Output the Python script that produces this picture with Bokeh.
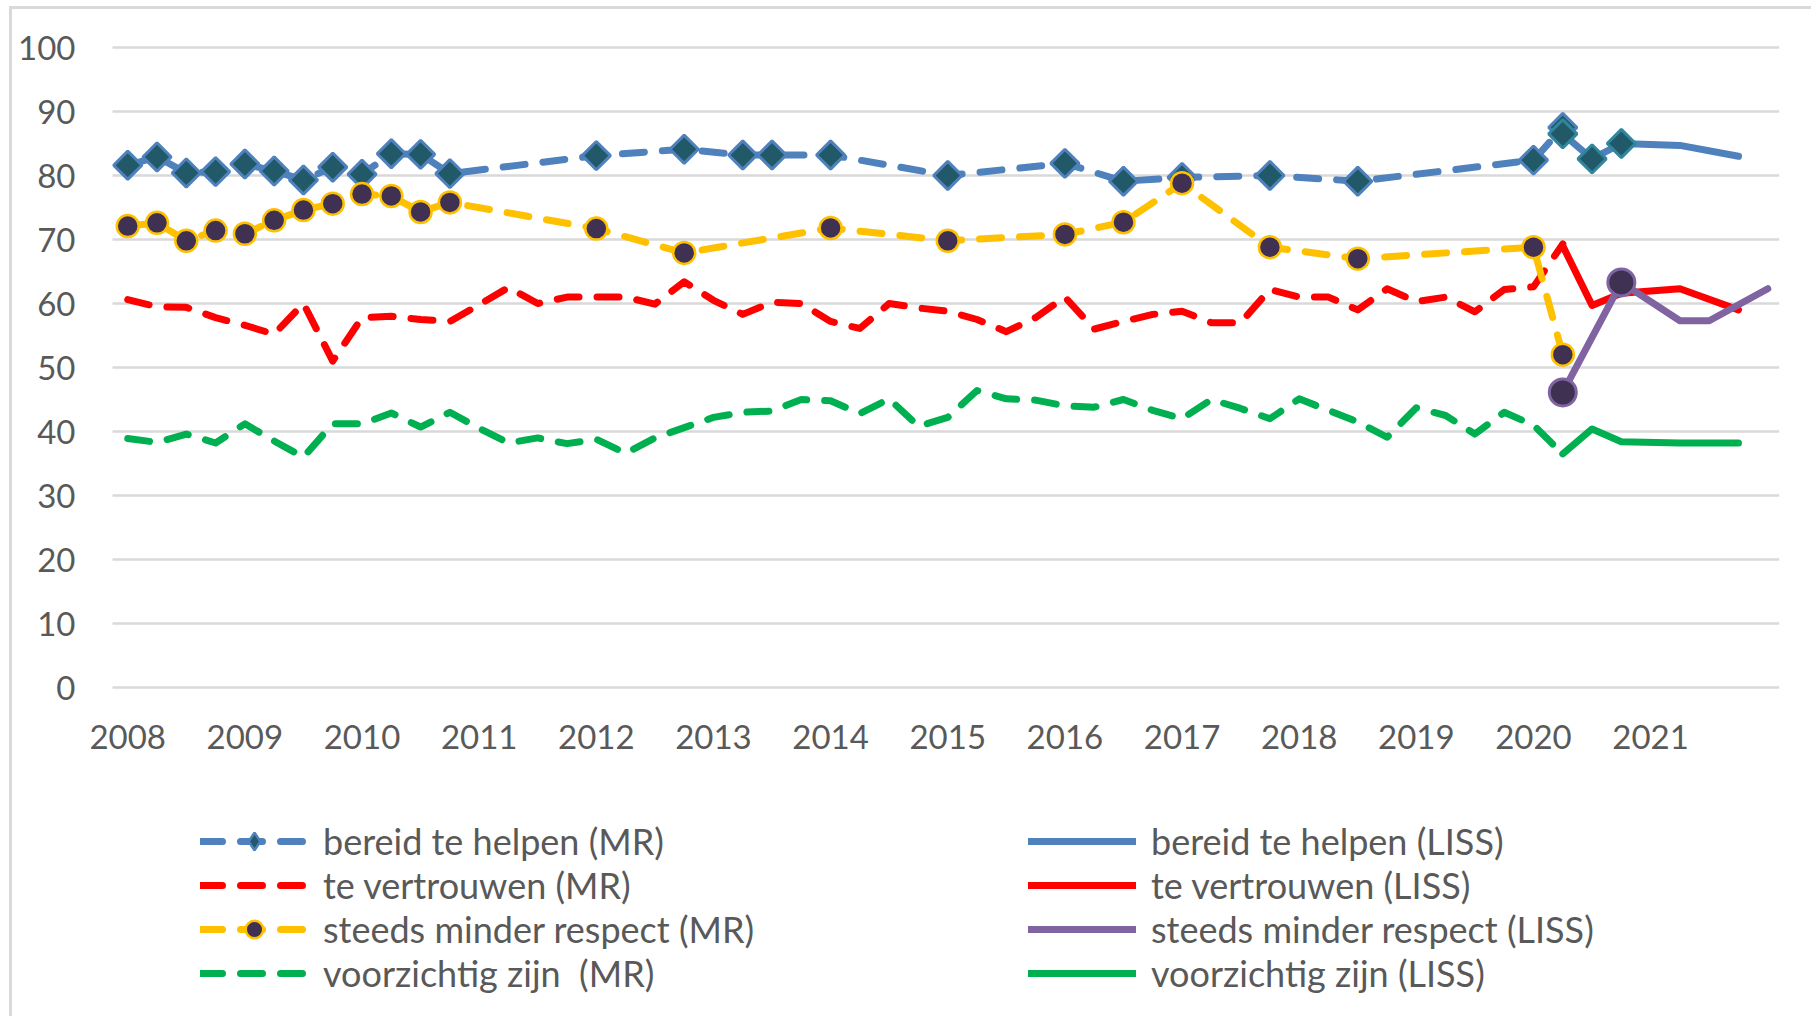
import math
from bokeh.plotting import figure
from bokeh.models import Legend, LegendItem, FixedTicker, Range1d
from bokeh.embed import file_html
from bokeh.resources import INLINE

# ---------------- data ----------------
year_ticks = [2008, 2009, 2010, 2011, 2012, 2013, 2014, 2015, 2016, 2017, 2018, 2019, 2020, 2021]
year_labels = ["2008", "2009", "2010", "2011", "2012", "2013", "2014", "2015", "2016", "2017",
               "2018", "2019", "2020", "2021"]
y_ticks = [0, 10, 20, 30, 40, 50, 60, 70, 80, 90, 100]

# quarterly measurements (MR) for "te vertrouwen" and "voorzichtig zijn"
mr_quarters = [2008.0, 2008.25, 2008.5, 2008.75, 2009.0, 2009.25, 2009.5, 2009.75,
               2010.0, 2010.25, 2010.5, 2010.75, 2011.0, 2011.25, 2011.5, 2011.75,
               2012.0, 2012.25, 2012.5, 2012.75, 2013.0, 2013.25, 2013.5, 2013.75,
               2014.0, 2014.25, 2014.5, 2014.75, 2015.0, 2015.25, 2015.5, 2015.75,
               2016.0, 2016.25, 2016.5, 2016.75, 2017.0, 2017.25, 2017.5, 2017.75,
               2018.0, 2018.25, 2018.5, 2018.75, 2019.0, 2019.25, 2019.5, 2019.75,
               2020.0, 2020.25]
vertrouwen_mr = [60.6, 59.5, 59.4, 57.8, 56.6, 55.2, 60.0, 51.0,
                 57.8, 58.0, 57.5, 57.2, 59.8, 62.5, 60.0, 61.0,
                 61.0, 61.0, 59.9, 63.4, 60.5, 58.3, 60.2, 60.0,
                 57.2, 56.1, 60.0, 59.3, 58.8, 57.5, 55.6, 57.8,
                 61.0, 56.0, 57.2, 58.3, 58.8, 57.0, 57.0, 62.2,
                 61.0, 61.0, 59.0, 62.3, 60.3, 61.0, 58.7, 62.2,
                 62.6, 69.3]
voorzichtig_mr = [38.9, 38.3, 39.6, 38.2, 41.2, 38.5, 36.0, 41.2,
                  41.2, 42.9, 40.7, 43.0, 40.5, 38.2, 39.0, 38.1,
                  38.8, 36.6, 39.0, 40.6, 42.2, 43.0, 43.2, 45.0,
                  44.8, 42.8, 45.1, 40.8, 42.2, 46.4, 45.1, 44.9,
                  44.0, 43.8, 45.0, 43.3, 42.0, 45.0, 43.6, 42.0,
                  45.1, 43.3, 41.5, 39.1, 43.7, 42.5, 39.6, 43.0,
                  41.0, 36.5]

# "bereid te helpen" (MR)
helpen_mr_x = [2008.0, 2008.25, 2008.5, 2008.75, 2009.0, 2009.25, 2009.5, 2009.75,
               2010.0, 2010.25, 2010.5, 2010.75, 2012.0, 2012.75, 2013.25, 2013.5,
               2014.0, 2015.0, 2016.0, 2016.5, 2017.0, 2017.75, 2018.5, 2020.0, 2020.25]
helpen_mr = [81.6, 82.9, 80.4, 80.6, 81.8, 80.7, 79.3, 81.3,
             80.2, 83.4, 83.3, 80.3, 83.1, 84.1, 83.2, 83.2,
             83.2, 80.0, 81.9, 79.1, 79.7, 80.0, 79.1, 82.4, 87.5]

# "steeds minder respect" (MR)
respect_mr_x = [2008.0, 2008.25, 2008.5, 2008.75, 2009.0, 2009.25, 2009.5, 2009.75,
                2010.0, 2010.25, 2010.5, 2010.75, 2012.0, 2012.75, 2014.0, 2015.0,
                2016.0, 2016.5, 2017.0, 2017.75, 2018.5, 2020.0, 2020.25]
respect_mr = [72.1, 72.6, 69.8, 71.4, 70.9, 73.0, 74.6, 75.6,
              77.1, 76.8, 74.3, 75.8, 71.7, 67.9, 71.8, 69.8,
              70.8, 72.7, 78.8, 68.8, 67.0, 68.8, 52.0]

# LISS panel
liss_x = [2020.25, 2020.5, 2020.75, 2021.25, 2021.75]
helpen_liss = [86.5, 82.6, 85.0, 84.7, 83.0]
vertrouwen_liss = [69.0, 59.7, 61.6, 62.3, 59.0]
voorzichtig_liss = [36.5, 40.4, 38.4, 38.2, 38.2]
respect_liss_x = [2020.25, 2020.75, 2021.25, 2021.5, 2022.0]
respect_liss = [46.1, 63.3, 57.3, 57.3, 62.3]

# ---------------- styling ----------------
BLUE = "#4F81BD"
RED = "#FF0000"
YELLOW = "#FFC000"
GREEN = "#00B050"
PURPLE = "#8064A2"
TEXT = "#595959"
GRID = "#D9D9D9"
FONT = "Lato"
LW = 7
DASH = "22 18"

W, H = 1811, 1016
FRAME_L, FRAME_R, FRAME_T = 13, 1779, 10   # drawing frame in pixels
AX_L = 112                                  # pixel where the value band (gridlines) starts
TOP, PLOT_H = 47, 640                       # pixel extent of the 0..100 value band
X_LEFT, X_RIGHT = 2007.87, 2022.10
px_per_year = (FRAME_R - AX_L) / (X_RIGHT - X_LEFT)
px_per_unit = PLOT_H / 100.0
x_start = X_LEFT - (AX_L - FRAME_L) / px_per_year
y_bottom = -(H - TOP - PLOT_H) / px_per_unit
y_top = 100 + (TOP - FRAME_T) / px_per_unit

p = figure(width=W, height=H, output_backend="svg", toolbar_location=None,
           x_range=Range1d(x_start, X_RIGHT), y_range=Range1d(y_bottom, y_top),
           min_border_left=FRAME_L, min_border_right=W - FRAME_R, min_border_top=FRAME_T,
           min_border_bottom=0)
p.border_fill_color = None
p.background_fill_color = "white"
p.outline_line_color = None
p.styles = {
    "background-image": f"linear-gradient({GRID},{GRID}), linear-gradient({GRID},{GRID})",
    "background-size": "3px 100%, 100% 3px",
    "background-position": "9px 6px, 9px 6px",
    "background-repeat": "no-repeat",
}

p.xgrid.visible = False
p.ygrid.ticker = FixedTicker(ticks=y_ticks)
p.ygrid.grid_line_color = GRID
p.ygrid.grid_line_width = 2.5
p.ygrid.cross_bounds = (X_LEFT, X_RIGHT)

for ax in (p.xaxis[0], p.yaxis[0]):
    ax.axis_line_color = None
    ax.major_tick_line_color = None
    ax.minor_tick_line_color = None
    ax.major_tick_out = 0
    ax.major_tick_in = 0
    ax.minor_tick_out = 0
    ax.major_label_text_font = FONT
    ax.major_label_text_font_size = "33px"
    ax.major_label_text_color = TEXT

p.yaxis.ticker = FixedTicker(ticks=y_ticks)
p.yaxis.major_label_standoff = 37
p.yaxis.fixed_location = X_LEFT
p.xaxis.ticker = FixedTicker(ticks=year_ticks)
p.xaxis.major_label_overrides = {t: l for t, l in zip(year_ticks, year_labels)}
p.xaxis.major_label_standoff = 37
p.xaxis.fixed_location = 0

# ---------------- series ----------------
r_help = p.line(helpen_mr_x, helpen_mr, line_color=BLUE, line_width=LW, line_dash=DASH,
                line_cap="round", line_join="round")
# diamond symbol used for the legend key; sits fully underneath the rotated-square markers
r_help_key = p.scatter(helpen_mr_x, helpen_mr, marker="diamond", size=22,
                       fill_color="#215968", line_color=BLUE, line_width=2.5)
p.scatter(helpen_mr_x, helpen_mr, marker="square", angle=math.pi / 4, size=20,
          fill_color="#215968", line_color=BLUE, line_width=3)
r_vert = p.line(mr_quarters, vertrouwen_mr, line_color=RED, line_width=LW, line_dash=DASH,
                line_cap="round", line_join="round")
r_resp = p.line(respect_mr_x, respect_mr, line_color=YELLOW, line_width=LW, line_dash=DASH,
                line_cap="round", line_join="round")
r_resp_m = p.scatter(respect_mr_x, respect_mr, marker="circle", size=22,
                     fill_color="#403152", line_color=YELLOW, line_width=2.5)
r_voor = p.line(mr_quarters, voorzichtig_mr, line_color=GREEN, line_width=LW, line_dash=DASH,
                line_cap="round", line_join="round")

l_help = p.line(liss_x, helpen_liss, line_color=BLUE, line_width=LW, line_cap="round", line_join="round")
p.scatter(liss_x[:3], helpen_liss[:3], marker="square", angle=math.pi / 4, size=20,
          fill_color="#215968", line_color="#31859C", line_width=3)
l_vert = p.line(liss_x, vertrouwen_liss, line_color=RED, line_width=LW, line_cap="round", line_join="round")
l_resp = p.line(respect_liss_x, respect_liss, line_color=PURPLE, line_width=LW, line_cap="round",
                line_join="round")
p.scatter(respect_liss_x[:2], respect_liss[:2], marker="circle", size=27,
          fill_color="#3F3151", line_color=PURPLE, line_width=3)
l_voor = p.line(liss_x, voorzichtig_liss, line_color=GREEN, line_width=LW, line_cap="round", line_join="round")

items = [
    LegendItem(label="bereid te helpen (MR)", renderers=[r_help, r_help_key]),
    LegendItem(label="te vertrouwen (MR)", renderers=[r_vert]),
    LegendItem(label="steeds minder respect (MR)", renderers=[r_resp, r_resp_m]),
    LegendItem(label="voorzichtig zijn  (MR)", renderers=[r_voor]),
    LegendItem(label="bereid te helpen (LISS)", renderers=[l_help]),
    LegendItem(label="te vertrouwen (LISS)", renderers=[l_vert]),
    LegendItem(label="steeds minder respect (LISS)", renderers=[l_resp]),
    LegendItem(label="voorzichtig zijn (LISS)", renderers=[l_voor]),
]
legend = Legend(items=items, location=(200 - FRAME_L, 21), orientation="vertical", nrows=4, ncols=2,
                glyph_width=108, glyph_height=44, label_height=44, label_width=705,
                label_standoff=15, spacing=0, padding=0, margin=0,
                border_line_color=None, background_fill_color=None,
                label_text_font=FONT, label_text_font_size="36px", label_text_color=TEXT)
p.add_layout(legend, "center")

open("out.html", "w").write(file_html(p, INLINE))
